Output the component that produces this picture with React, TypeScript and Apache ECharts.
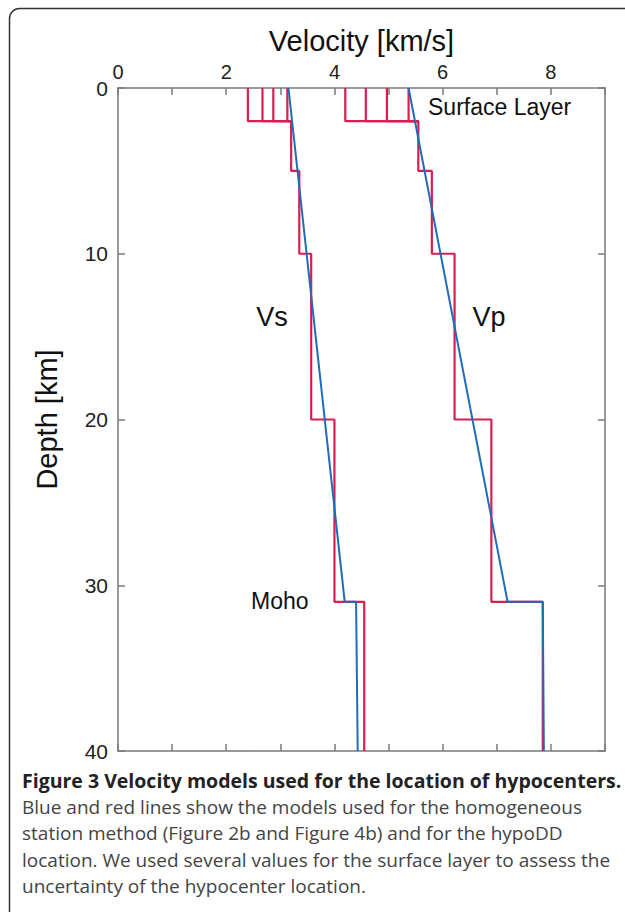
import React, { useEffect, useRef } from "react";
import * as echarts from "echarts";

// Layer boundaries (depth, km)
const layerTops = [0, 2, 5, 10, 20, 31];
const layerBottoms = [2, 5, 10, 20, 31, 40];
// hypoDD step models (red)
const vsStep = [3.13, 3.2, 3.35, 3.57, 4.0, 4.55];
const vpStep = [5.37, 5.55, 5.8, 6.22, 6.9, 7.85];
// alternative surface-layer values (red)
const vsSurfaceAlt = [2.4, 2.67, 2.87];
const vpSurfaceAlt = [4.2, 4.58, 4.97];
// homogeneous station method gradient models (blue)
const gradDepths = [0, 31, 31, 40];
const vsGrad = [3.15, 4.19, 4.4, 4.43];
const vpGrad = [5.37, 7.2, 7.85, 7.87];
// axes
const xTickLabels = [0, 2, 4, 6, 8];
const yTickLabels = [0, 10, 20, 30, 40];

const RED = "#d81f4f";
const BLUE = "#1f6db9";
const AXIS = "#7a7a7a";
const FONT = "'Liberation Sans', Arial, Helvetica, sans-serif";
const CAP_FONT = "'Open Sans', 'Noto Sans', sans-serif";

function stepLine(vals: number[]): number[][] {
  const pts: number[][] = [];
  vals.forEach((v, i) => {
    pts.push([v, layerTops[i]]);
    pts.push([v, layerBottoms[i]]);
  });
  return pts;
}

function surfaceAlt(v: number, next: number): number[][] {
  return [
    [v, layerTops[0]],
    [v, layerBottoms[0]],
    [next, layerBottoms[0]],
  ];
}

export default function App() {
  const ref = useRef<HTMLDivElement>(null);
  useEffect(() => {
    document.body.style.margin = "0";
    if (!ref.current) return;
    const chart = echarts.init(ref.current, undefined, { renderer: "svg" });

    const redSeries: any[] = [];
    const mk = (data: number[][], color: string, z: number, width: number) => ({
      type: "line",
      data,
      symbol: "none",
      lineStyle: { color, width },
      xAxisIndex: 0,
      yAxisIndex: 0,
      z,
      silent: true,
    });
    redSeries.push(mk(stepLine(vsStep), RED, 2, 2.2));
    redSeries.push(mk(stepLine(vpStep), RED, 2, 2.2));
    vsSurfaceAlt.forEach((v) => redSeries.push(mk(surfaceAlt(v, vsStep[1]), RED, 2, 2.2)));
    vpSurfaceAlt.forEach((v) => redSeries.push(mk(surfaceAlt(v, vpStep[1]), RED, 2, 2.2)));
    const blueSeries = [
      mk(gradDepths.map((d, i) => [vsGrad[i], d]), BLUE, 3, 2),
      mk(gradDepths.map((d, i) => [vpGrad[i], d]), BLUE, 3, 2),
    ];

    const axisCommon = {
      type: "value",
      axisLine: { show: true, onZero: false, lineStyle: { color: AXIS, width: 1.5 } },
      axisTick: { show: true, inside: true, length: 7, lineStyle: { color: AXIS, width: 1.5 } },
      splitLine: { show: false },
    };

    chart.setOption({
      animation: false,
      grid: { left: 118, top: 88, width: 487, height: 663 },
      xAxis: [
        {
          ...axisCommon,
          position: "top",
          min: 0,
          max: 9,
          interval: 1,
          name: "Velocity [km/s]",
          nameLocation: "middle",
          nameGap: 33,
          nameTextStyle: { fontFamily: FONT, fontSize: 29, color: "#111" },
          axisLabel: {
            margin: 6,
            fontFamily: FONT,
            fontSize: 20,
            color: "#222",
            formatter: (v: number) => (xTickLabels.includes(v) ? String(v) : ""),
          },
        },
        {
          ...axisCommon,
          position: "bottom",
          min: 0,
          max: 9,
          interval: 1,
          axisLabel: { show: false },
        },
      ],
      yAxis: [
        {
          ...axisCommon,
          position: "left",
          inverse: true,
          min: 0,
          max: 40,
          interval: 10,
          name: "Depth [km]",
          nameLocation: "middle",
          nameRotate: 90,
          nameGap: 57,
          nameTextStyle: { fontFamily: FONT, fontSize: 29, color: "#111" },
          axisLabel: {
            margin: 10,
            fontFamily: FONT,
            fontSize: 21,
            color: "#222",
            formatter: (v: number) => (yTickLabels.includes(v) ? String(v) : ""),
          },
        },
        {
          ...axisCommon,
          position: "right",
          inverse: true,
          min: 0,
          max: 40,
          interval: 10,
          axisLabel: { show: false },
        },
      ],
      series: [...redSeries, ...blueSeries],
      graphic: [
        {
          type: "rect",
          shape: { x: 9.5, y: 8.5, width: 700, height: 915, r: 10 },
          style: { fill: "none", stroke: "#333", lineWidth: 1.5 },
          silent: true,
        },
        {
          type: "text",
          x: 428,
          y: 107,
          style: { text: "Surface Layer", font: `23px ${FONT}`, fill: "#111", verticalAlign: "middle" },
        },
        {
          type: "text",
          x: 272,
          y: 317,
          style: { text: "Vs", font: `27px ${FONT}`, fill: "#111", align: "center", verticalAlign: "middle" },
        },
        {
          type: "text",
          x: 489,
          y: 317,
          style: { text: "Vp", font: `27px ${FONT}`, fill: "#111", align: "center", verticalAlign: "middle" },
        },
        {
          type: "text",
          x: 251,
          y: 601,
          style: { text: "Moho", font: `23px ${FONT}`, fill: "#111", verticalAlign: "middle" },
        },
        {
          type: "text",
          x: 22,
          y: 780,
          style: {
            text: "Figure 3 Velocity models used for the location of hypocenters.",
            font: `bold 19.5px ${CAP_FONT}`,
            fill: "#222",
            verticalAlign: "middle",
          },
        },
        ...[
          "Blue and red lines show the models used for the homogeneous",
          "station method (Figure 2b and Figure 4b) and for the hypoDD",
          "location. We used several values for the surface layer to assess the",
          "uncertainty of the hypocenter location.",
        ].map((t, i) => ({
          type: "text",
          x: 22,
          y: 807 + i * 26.3,
          style: { text: t, font: `19px ${CAP_FONT}`, fill: "#444", verticalAlign: "middle" },
        })),
      ],
    });
    return () => chart.dispose();
  }, []);
  return <div ref={ref} style={{ width: 625, height: 912 }} />;
}
